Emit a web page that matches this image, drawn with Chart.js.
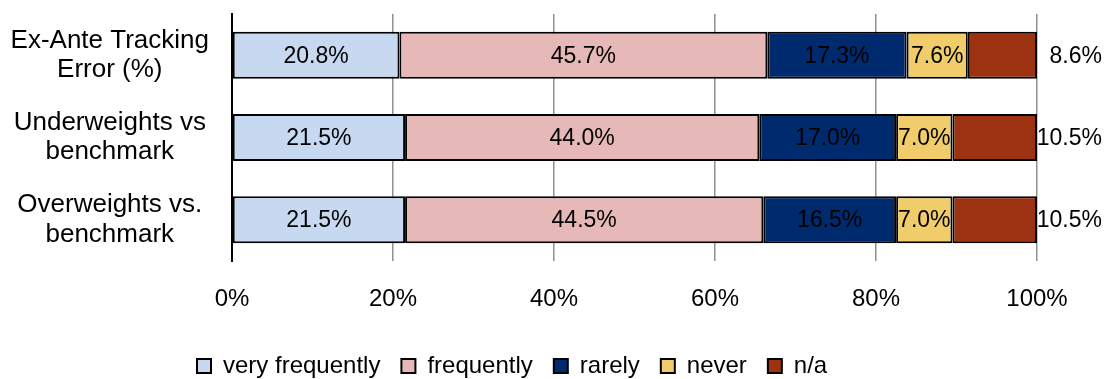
<!DOCTYPE html>
<html>
<head>
<meta charset="utf-8">
<script src="https://cdn.jsdelivr.net/npm/chart.js@4/dist/chart.umd.min.js"></script>
<style>
  html, body { margin: 0; padding: 0; background: #fff; }
  #wrap { position: relative; width: 1105px; height: 379px; }
</style>
</head>
<body>
<div id="wrap"><canvas id="surveyChart"></canvas></div>
<script>
const categories = [
    ['Ex-Ante Tracking', 'Error (%)'],
    ['Underweights vs', 'benchmark'],
    ['Overweights vs.', 'benchmark']
];
const seriesNames = ['very frequently', 'frequently', 'rarely', 'never', 'n/a'];
const veryFrequently = [20.8, 21.5, 21.5];
const frequently = [45.7, 44.0, 44.5];
const rarely = [17.3, 17.0, 16.5];
const never = [7.6, 7.0, 7.0];
const notApplicable = [8.6, 10.5, 10.5];
const xTicks = [0, 20, 40, 60, 80, 100];

const seriesColors = ['#c6d9f1', '#e6b9b8', '#002a6e', '#f0cd6a', '#9c3210'];
const seriesValues = [veryFrequently, frequently, rarely, never, notApplicable];
const FONT = '"Liberation Sans", Arial, sans-serif';

// value labels: centred in the segment, n/a sits outside the bar on the right
const valueLabels = {
    id: 'valueLabels',
    afterDatasetsDraw(chart) {
        const ctx = chart.ctx;
        ctx.save();
        ctx.font = '23px ' + FONT;
        ctx.fillStyle = '#000';
        ctx.textBaseline = 'middle';
        chart.data.datasets.forEach((ds, di) => {
            const meta = chart.getDatasetMeta(di);
            meta.data.forEach((bar, i) => {
                const { x, y, base } = bar.getProps(['x', 'y', 'base'], true);
                const text = ds.data[i].toFixed(1) + '%';
                if (di === chart.data.datasets.length - 1) {
                    ctx.textAlign = 'right';
                    ctx.fillText(text, chart.chartArea.right + 65, y + 1);
                } else {
                    ctx.textAlign = 'center';
                    ctx.fillText(text, (x + base) / 2, y + 1);
                }
            });
        });
        ctx.restore();
    }
};

// Excel puts the legend left of centre; move it before it is drawn
const legendSpot = {
    id: 'legendSpot',
    beforeDraw(chart) {
        chart.legend.left = 176;
        chart.legend.top = 333;
    }
};

const ctx = document.getElementById('surveyChart').getContext('2d');
new Chart(ctx, {
    type: 'bar',
    data: {
        labels: categories,
        datasets: seriesNames.map((name, i) => ({
            label: name,
            data: seriesValues[i],
            backgroundColor: seriesColors[i],
            borderColor: '#000',
            borderWidth: 2,
            borderSkipped: false,
            barPercentage: 0.57,
            categoryPercentage: 1.0
        }))
    },
    options: {
        indexAxis: 'y',
        responsive: true,
        maintainAspectRatio: false,
        animation: false,
        layout: { padding: { top: 14, right: 68, left: 0, bottom: 0 } },
        plugins: {
            legend: {
                position: 'bottom',
                align: 'start',
                labels: {
                    color: '#000',
                    font: { family: FONT, size: 24 },
                    boxWidth: 14,
                    boxHeight: 14,
                    padding: 21
                }
            },
            tooltip: { enabled: false }
        },
        scales: {
            x: {
                stacked: true,
                min: 0,
                max: 100,
                afterBuildTicks: (scale) => {
                    scale.ticks = xTicks.map(v => ({ value: v }));
                },
                afterFit: (scale) => { scale.height = 63; },
                border: { display: false },
                grid: {
                    color: (c) => c.index === 0 ? '#000' : '#909090',
                    lineWidth: 1.5,
                    drawTicks: false
                },
                ticks: {
                    color: '#000',
                    padding: 24,
                    font: { family: FONT, size: 24 },
                    callback: (v) => v + '%'
                }
            },
            y: {
                stacked: true,
                afterFit: (scale) => {
                    scale.width = 232;
                    scale.paddingTop = 0;
                    scale.paddingBottom = 0;
                },
                border: { display: true, color: '#000', width: 2 },
                grid: { display: false },
                ticks: {
                    color: '#000',
                    padding: 15,
                    crossAlign: 'center',
                    font: { family: FONT, size: 26, lineHeight: 1.12 }
                }
            }
        }
    },
    plugins: [valueLabels, legendSpot]
});
</script>
</body>
</html>
